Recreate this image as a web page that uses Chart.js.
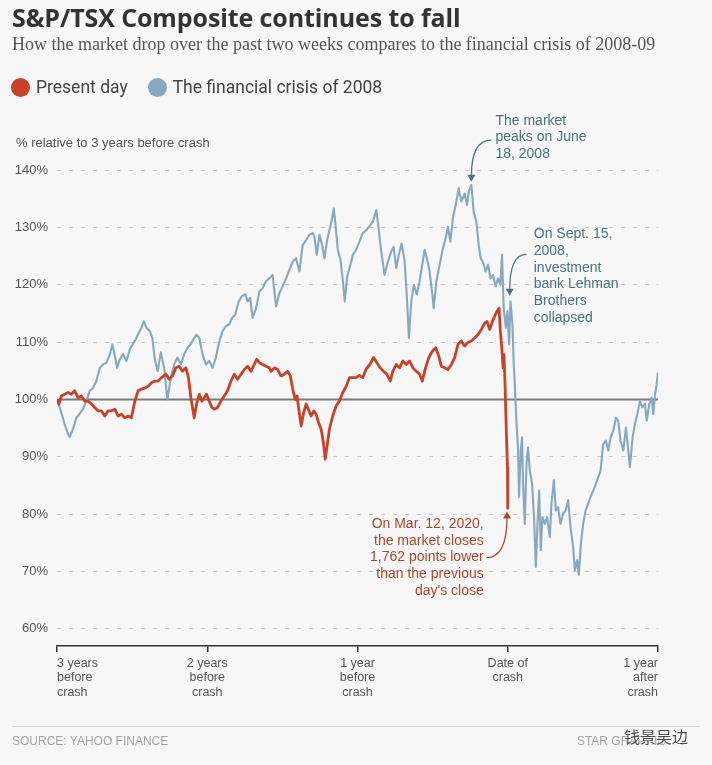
<!DOCTYPE html>
<html>
<head>
<meta charset="utf-8">
<script src="https://cdn.jsdelivr.net/npm/chart.js@4.4.1/dist/chart.umd.min.js"></script>
<style>
  body { margin: 0; background: #f7f7f7; width: 712px; height: 765px; overflow: hidden; position: relative; font-family: "Liberation Sans", Arial, sans-serif; }
  canvas { position: absolute; left: 0; top: 0; }
  .abs { position: absolute; white-space: nowrap; }
  .title { left: 12px; top: 2px; font: bold 25px/30px "Open Sans", sans-serif; color: #333; letter-spacing: -0.1px; }
  .subtitle { left: 12px; top: 34px; font: 18px/21px "Liberation Serif", serif; color: #555; }
  .legend { left: 11px; top: 77px; height: 20px; display: flex; align-items: center; font: 17.5px/20px Roboto, sans-serif; color: #444; }
  .legend .dot { width: 19px; height: 19px; border-radius: 50%; margin-right: 6px; }
  .legend .item { display: flex; align-items: center; margin-right: 20px; }
  .ytitle { left: 16px; top: 135px; font: 13px/16px "Liberation Sans", sans-serif; color: #555; }
  .rule { left: 12px; top: 726px; width: 688px; height: 1px; background: #d6d6d6; }
  .source { left: 12px; top: 734px; font: 12px/14px "Liberation Sans", sans-serif; color: #a3a3a3; }
  .credit { right: 46px; top: 734px; font: 12px/14px "Liberation Sans", sans-serif; color: #a3a3a3; }
  .mark { left: 624px; top: 727px; font: 16px/18px "Noto Sans CJK SC", sans-serif; color: #4a4a4a; text-shadow: 0 0 2px #fff, 0 0 2px #fff; }
</style>
</head>
<body>
<canvas id="chart" width="712" height="765"></canvas>
<div class="abs title">S&amp;P/TSX Composite continues to fall</div>
<div class="abs subtitle">How the market drop over the past two weeks compares to the financial crisis of 2008-09</div>
<div class="abs legend">
  <div class="item"><span class="dot" style="background:#c8422a"></span>Present day</div>
  <div class="item"><span class="dot" style="background:#87a8c0"></span>The financial crisis of 2008</div>
</div>
<div class="abs ytitle">% relative to 3 years before crash</div>
<div class="abs rule"></div>
<div class="abs source">SOURCE: YAHOO FINANCE</div>
<div class="abs credit">STAR GRAPHIC</div>
<div class="abs mark">钱景吴边</div>
<script>
// years relative to the crash date, value = % of level 3 years before
const presentYears = [
  -3.000,-2.987,-2.971,-2.949,-2.927,-2.905,-2.882,-2.860,-2.838,-2.815,
  -2.793,-2.771,-2.749,-2.727,-2.705,-2.682,-2.660,-2.638,-2.615,-2.593,
  -2.571,-2.549,-2.527,-2.505,-2.482,-2.460,-2.438,-2.415,-2.393,-2.371,
  -2.349,-2.327,-2.305,-2.275,-2.253,-2.231,-2.209,-2.187,-2.165,-2.142,
  -2.125,-2.109,-2.098,-2.087,-2.071,-2.053,-2.035,-2.020,-2.005,-1.987,
  -1.969,-1.953,-1.931,-1.909,-1.887,-1.865,-1.842,-1.820,-1.798,-1.775,
  -1.753,-1.731,-1.709,-1.687,-1.671,-1.653,-1.631,-1.609,-1.587,-1.575,
  -1.553,-1.531,-1.509,-1.487,-1.465,-1.447,-1.431,-1.415,-1.402,-1.391,
  -1.375,-1.358,-1.342,-1.327,-1.309,-1.291,-1.275,-1.260,-1.242,-1.227,
  -1.215,-1.202,-1.187,-1.165,-1.142,-1.120,-1.098,-1.075,-1.053,-1.031,
  -1.009,-0.987,-0.965,-0.942,-0.920,-0.893,-0.871,-0.849,-0.827,-0.805,
  -0.782,-0.765,-0.742,-0.720,-0.698,-0.675,-0.653,-0.631,-0.609,-0.587,
  -0.569,-0.547,-0.525,-0.502,-0.480,-0.462,-0.442,-0.420,-0.398,-0.375,
  -0.353,-0.331,-0.309,-0.287,-0.265,-0.242,-0.220,-0.198,-0.175,-0.153,
  -0.138,-0.120,-0.102,-0.087,-0.071,-0.058,-0.049,-0.038,-0.031,-0.025,
  -0.018,-0.009,-0.002,0.000
];
const presentValues = [
  100.0, 99.2,100.6,100.9,101.2,100.9,101.5,100.3,100.6, 99.7,
   99.7, 99.2, 98.6, 98.0, 98.0, 97.1, 98.0, 98.0, 98.3, 97.1,
   97.4, 96.8, 97.1, 96.8, 99.7,101.5,101.8,102.0,102.3,102.9,
  103.2,103.2,103.8,104.4,103.5,104.1,105.5,105.8,104.9,105.5,
  103.8,100.3, 98.6, 96.8, 99.2,100.9, 99.7,100.3,100.9, 99.7,
   98.6, 98.3, 98.6, 99.7,100.6,101.5,103.2,104.4,103.5,104.4,
  105.2,105.8,104.9,106.1,107.0,106.4,106.1,105.8,105.5,104.9,
  105.5,105.2,104.1,104.4,104.9,104.1,101.8,100.0,100.6, 98.3,
   95.4, 97.7, 99.2, 98.3, 97.1, 98.0, 97.4, 96.0, 94.8, 92.5,
   89.6, 91.9, 94.8, 97.1, 98.9, 99.7,101.2,102.3,103.8,103.8,
  103.8,104.2,103.8,105.3,106.0,107.3,106.4,105.5,104.9,104.4,
  103.2,104.9,106.1,105.5,106.7,106.1,106.7,105.5,104.9,104.4,
  103.2,105.5,107.3,108.4,109.0,107.8,105.8,105.5,105.2,106.1,
  107.3,109.6,110.2,109.3,109.9,110.2,110.7,111.3,112.2,113.3,
  113.6,112.2,113.6,114.5,115.4,115.9,111.9,108.4,105.5,107.8,
  102.6, 94.0, 88.2, 81.0
];
const crisisYears = [
  -3.000,-2.982,-2.949,-2.927,-2.915,-2.893,-2.871,-2.849,-2.827,-2.805,
  -2.782,-2.760,-2.738,-2.715,-2.693,-2.671,-2.649,-2.631,-2.615,-2.600,
  -2.582,-2.560,-2.538,-2.515,-2.482,-2.460,-2.438,-2.422,-2.405,-2.382,
  -2.365,-2.349,-2.330,-2.309,-2.287,-2.265,-2.242,-2.220,-2.198,-2.175,
  -2.153,-2.131,-2.109,-2.087,-2.071,-2.053,-2.031,-2.009,-1.987,-1.965,
  -1.942,-1.925,-1.898,-1.875,-1.853,-1.835,-1.813,-1.791,-1.769,-1.747,
  -1.731,-1.715,-1.698,-1.675,-1.653,-1.631,-1.609,-1.587,-1.565,-1.542,
  -1.520,-1.498,-1.475,-1.453,-1.431,-1.409,-1.387,-1.365,-1.342,-1.320,
  -1.298,-1.287,-1.271,-1.253,-1.238,-1.220,-1.202,-1.187,-1.171,-1.158,
  -1.145,-1.131,-1.113,-1.098,-1.085,-1.069,-1.053,-1.031,-1.009,-0.987,
  -0.965,-0.942,-0.920,-0.898,-0.875,-0.865,-0.842,-0.820,-0.798,-0.775,
  -0.760,-0.742,-0.725,-0.707,-0.687,-0.671,-0.658,-0.642,-0.625,-0.605,
  -0.587,-0.569,-0.553,-0.538,-0.520,-0.502,-0.493,-0.475,-0.453,-0.431,
  -0.413,-0.398,-0.382,-0.365,-0.342,-0.327,-0.309,-0.287,-0.271,-0.260,
  -0.242,-0.227,-0.209,-0.193,-0.180,-0.165,-0.147,-0.131,-0.115,-0.098,
  -0.080,-0.065,-0.049,-0.038,-0.027,-0.013,-0.002, 0.009, 0.018, 0.031,
   0.040, 0.047, 0.058, 0.069, 0.075, 0.087, 0.095, 0.102, 0.113, 0.125,
   0.135, 0.147, 0.162, 0.175, 0.187, 0.198, 0.209, 0.220, 0.231, 0.247,
   0.262, 0.280, 0.291, 0.307, 0.320, 0.335, 0.351, 0.369, 0.385, 0.402,
   0.418, 0.435, 0.447, 0.462, 0.473, 0.487, 0.502, 0.518, 0.535, 0.551,
   0.569, 0.587, 0.602, 0.618, 0.635, 0.653, 0.669, 0.685, 0.702, 0.720,
   0.735, 0.751, 0.769, 0.787, 0.802, 0.813, 0.831, 0.847, 0.862, 0.880,
   0.895, 0.913, 0.925, 0.942, 0.958, 0.969, 0.980, 0.991, 1.000
];
const crisisValues = [
  100.0, 98.6, 95.7, 94.0, 93.4, 94.9, 96.8, 97.5, 98.3, 99.7,
  101.5,102.0,103.2,105.5,106.1,106.4,107.8,109.6,107.6,105.5,
  107.0,107.9,106.7,108.8,110.2,111.4,112.5,113.6,112.5,111.9,
  110.7,107.0,104.9,108.2,105.5,100.0,103.8,106.1,107.3,106.1,
  107.9,109.0,109.6,110.7,111.3,110.7,107.8,106.1,106.7,105.5,
  107.3,109.6,111.9,112.8,113.1,114.2,114.8,117.1,118.0,118.3,
  117.1,117.7,114.2,115.9,118.8,119.4,120.6,121.1,121.7,116.2,
  118.5,119.7,121.1,122.6,124.0,124.6,122.3,126.9,127.8,128.7,
  129.0,128.4,125.2,128.7,127.2,124.6,127.8,129.5,131.3,133.3,
  130.1,126.1,124.3,120.9,117.1,121.4,122.9,125.2,126.1,127.5,
  129.0,129.5,130.2,131.0,133.0,131.0,125.8,121.7,124.0,125.8,
  126.6,122.9,125.2,127.2,124.3,117.7,110.7,117.1,120.0,118.3,
  120.6,123.5,126.1,124.6,122.3,118.3,115.9,120.6,123.5,126.4,
  128.1,130.1,127.5,131.6,134.5,136.8,134.5,135.9,133.9,136.2,
  137.4,132.7,131.0,126.9,124.6,124.0,122.3,123.5,121.1,121.7,
  119.7,121.1,120.0,125.2,115.9,112.5,115.4,109.6,117.1,113.1,
  106.0,102.6, 96.0, 91.1, 83.0, 91.1, 93.4, 85.3, 78.3, 88.8,
   91.6, 87.6, 85.3, 79.5, 70.8, 78.3, 84.1, 73.7, 79.5, 78.3,
   79.5, 76.0, 81.8, 85.9, 80.6, 81.2, 78.3, 80.1, 80.6, 82.4,
   77.7, 74.3, 70.2, 72.0, 69.4, 74.9, 78.3, 80.6, 81.8, 83.0,
   84.1, 85.3, 86.4, 87.6, 92.2, 92.8, 91.1, 93.4, 94.5, 96.8,
   96.3, 92.8, 91.1, 95.1, 91.1, 88.2, 93.4, 95.7, 97.4, 99.7,
   98.6, 99.2, 96.3, 99.2,100.3, 97.4,100.9,102.6,104.7
];
const baseline = 100;
const yTicks = [60, 70, 80, 90, 100, 110, 120, 130, 140];
const xTickYears = [-3, -2, -1, 0, 1];
const xTickLabels = [
  ["3 years", "before", "crash"],
  ["2 years", "before", "crash"],
  ["1 year", "before", "crash"],
  ["Date of", "crash"],
  ["1 year", "after", "crash"]
];

const RED = "#c8422a";
const BLUE = "#87a8c0";
const TEAL = "#4b7383";
const NOTE_RED = "#b1452b";

// notes placed in data units (x = years, y = %)
const notes = [
  { lines: ["The market", "peaks on June", "18, 2008"], x: -0.082, y: 148.6, align: "left", color: TEAL,
    from: [-0.109, 145.2], ctrl: [-0.242, 145.2], to: [-0.242, 139.0], dir: "down" },
  { lines: ["On Sept. 15,", "2008,", "investment", "bank Lehman", "Brothers", "collapsed"], x: 0.173, y: 128.8, align: "left", color: TEAL,
    from: [0.125, 125.3], ctrl: [0.013, 125.3], to: [0.013, 119.1], dir: "down" },
  { lines: ["On Mar. 12, 2020,", "the market closes", "1,762 points lower", "than the previous", "day's close"], x: -0.16, y: 78.3, align: "right", color: NOTE_RED,
    from: [-0.142, 72.4], ctrl: [-0.005, 72.4], to: [-0.005, 79.4], dir: "up" }
];

const notesPlugin = {
  id: "notes",
  afterDatasetsDraw(chart) {
    const { ctx, scales } = chart;
    const sx = scales.x, sy = scales.y;
    ctx.save();
    ctx.font = '14px "Liberation Sans", Arial, sans-serif';
    ctx.textBaseline = "middle";
    notes.forEach(n => {
      ctx.fillStyle = n.color;
      ctx.textAlign = n.align;
      const px = sx.getPixelForValue(n.x);
      const py = sy.getPixelForValue(n.y);
      n.lines.forEach((t, i) => ctx.fillText(t, px, py + i * 16.8));

      const a = [sx.getPixelForValue(n.from[0]), sy.getPixelForValue(n.from[1])];
      const c = [sx.getPixelForValue(n.ctrl[0]), sy.getPixelForValue(n.ctrl[1])];
      const b = [sx.getPixelForValue(n.to[0]), sy.getPixelForValue(n.to[1])];
      ctx.strokeStyle = n.color;
      ctx.lineWidth = 1.3;
      ctx.beginPath();
      ctx.moveTo(a[0], a[1]);
      ctx.quadraticCurveTo(c[0], c[1], b[0], b[1]);
      ctx.stroke();
      const s = n.dir === "down" ? 1 : -1;
      ctx.beginPath();
      ctx.moveTo(b[0], b[1] + s * 6);
      ctx.lineTo(b[0] - 4, b[1] - s * 1);
      ctx.lineTo(b[0] + 4, b[1] - s * 1);
      ctx.closePath();
      ctx.fill();
    });
    ctx.restore();
  }
};

const toPoints = (xs, ys) => xs.map((x, i) => ({ x: x, y: ys[i] }));

new Chart(document.getElementById("chart"), {
  type: "line",
  data: {
    datasets: [
      { label: "Present day", data: toPoints(presentYears, presentValues), borderColor: RED, borderWidth: 2.8 },
      { label: "The financial crisis of 2008", data: toPoints(crisisYears, crisisValues), borderColor: BLUE, borderWidth: 2.1 },
      { label: "base", data: [{ x: -3, y: baseline }, { x: 1, y: baseline }], borderColor: "#7a7a7a", borderWidth: 2 }
    ]
  },
  options: {
    responsive: false,
    animation: false,
    events: [],
    elements: { point: { radius: 0 }, line: { tension: 0, borderJoinStyle: "round" } },
    layout: { padding: { left: 0, right: 54, top: 170, bottom: 59 } },
    plugins: { legend: { display: false }, tooltip: { enabled: false } },
    scales: {
      x: {
        type: "linear", min: -3, max: 1,
        afterBuildTicks: s => { s.ticks = xTickYears.map(v => ({ value: v })); },
        afterFit: s => { s.height = 60; },
        ticks: {
          autoSkip: false, maxRotation: 0, align: "inner", padding: 4, color: "#555",
          font: { family: '"Liberation Sans", Arial, sans-serif', size: 12.5, lineHeight: 1.16 },
          callback: (v, i) => xTickLabels[i]
        },
        grid: { drawOnChartArea: false, tickLength: 6, color: "#333", lineWidth: 1.5 },
        border: { color: "#333", width: 1.5 }
      },
      y: {
        min: 57, max: 140,
        afterBuildTicks: s => { s.ticks = yTicks.map(v => ({ value: v })); },
        afterFit: s => { s.width = 57; },
        ticks: {
          padding: 9, color: "#555",
          font: { family: '"Liberation Sans", Arial, sans-serif', size: 13 },
          callback: v => v + "%"
        },
        grid: { color: "#c8c8c8", lineWidth: 1, drawTicks: false },
        border: { display: false, dash: [4, 8] }
      }
    }
  },
  plugins: [notesPlugin]
});
</script>
</body>
</html>
